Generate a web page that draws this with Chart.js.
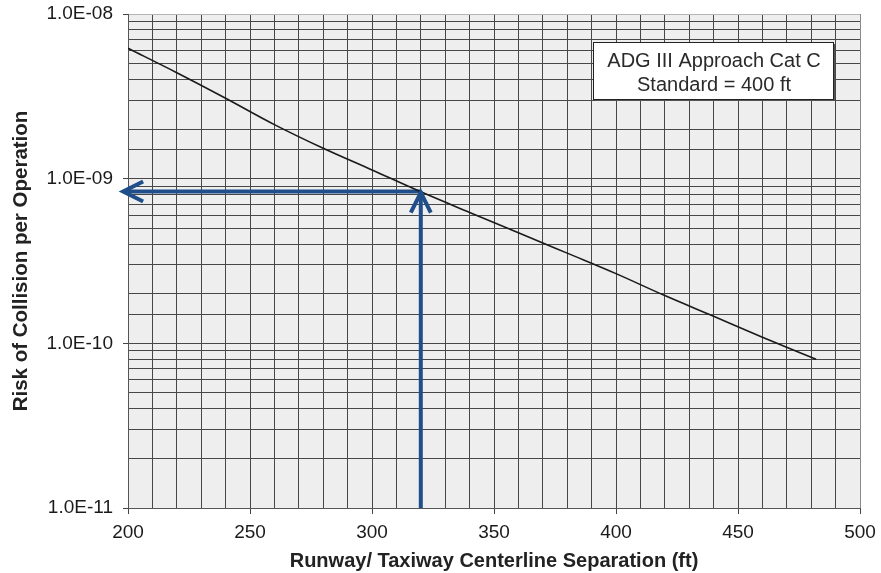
<!DOCTYPE html>
<html>
<head>
<meta charset="utf-8">
<title>Risk of Collision vs Separation</title>
<script src="https://cdn.jsdelivr.net/npm/chart.js@4.4.1/dist/chart.umd.min.js"></script>
<style>
  body { margin: 0; background: #fff; }
  #wrap { width: 881px; height: 573px; }
</style>
</head>
<body>
<div id="wrap"><canvas id="riskChart" width="881" height="573"></canvas></div>
<script>
// ---- data ----
const separationFt = [200, 220, 240, 260, 280, 300, 320, 340, 360, 380, 400, 420, 440, 460, 482];
const collisionRisk = [6.19e-9, 4.40e-9, 3.08e-9, 2.13e-9, 1.53e-9, 1.13e-9, 8.32e-10, 6.24e-10,
                       4.70e-10, 3.53e-10, 2.65e-10, 1.95e-10, 1.46e-10, 1.09e-10, 8.0e-11];

// reading arrows (go up from the axis at 320 ft, then left to the risk axis)
const readSeparation = 320;
const readRisk = 8.35e-10;
const arrowBottomRisk = 1e-11;
const arrowLeftSeparation = 198;

const xMin = 200, xMax = 500, xStep = 10, xLabelStep = 50;
const yMin = 1e-11, yMax = 1e-8;

const noteLines = ["ADG III Approach Cat C", "Standard = 400 ft"];

const FONT = "'Liberation Sans', Arial, Helvetica, sans-serif";
const ARROW_BLUE = "#1f4e8a";

function isDecade(v) {
  const l = Math.log10(v);
  return Math.abs(l - Math.round(l)) < 1e-6;
}

// ------------------- Plugins -------------------
const plotBackground = {
  id: "plotBackground",
  beforeDraw(chart) {
    const { ctx, chartArea: a } = chart;
    ctx.save();
    ctx.fillStyle = "#eeeeee";
    ctx.fillRect(a.left, a.top, a.right - a.left, a.bottom - a.top);
    ctx.restore();
  }
};

const arrowHeads = {
  id: "arrowHeads",
  afterDatasetsDraw(chart) {
    const { ctx, scales: { x, y } } = chart;
    const px = x.getPixelForValue(readSeparation);
    const py = y.getPixelForValue(readRisk);
    const lx = x.getPixelForValue(arrowLeftSeparation);
    ctx.save();
    ctx.strokeStyle = ARROW_BLUE;
    ctx.lineWidth = 4;
    ctx.lineCap = "butt";
    ctx.lineJoin = "miter";
    // up arrow head
    ctx.beginPath();
    ctx.moveTo(px - 10, py + 21);
    ctx.lineTo(px, py + 1);
    ctx.lineTo(px + 10, py + 21);
    ctx.stroke();
    // left arrow head
    ctx.beginPath();
    ctx.moveTo(lx + 20, py - 10);
    ctx.lineTo(lx, py);
    ctx.lineTo(lx + 20, py + 10);
    ctx.stroke();
    ctx.restore();
  }
};

const noteBox = {
  id: "noteBox",
  afterDraw(chart) {
    const { ctx } = chart;
    const bx = 593, by = 42, bw = 240, bh = 57;
    ctx.save();
    ctx.fillStyle = "#555";
    ctx.fillRect(bx + 2, by + 2, bw, bh);
    ctx.fillStyle = "#fff";
    ctx.fillRect(bx, by, bw, bh);
    ctx.strokeStyle = "#222";
    ctx.lineWidth = 1;
    ctx.strokeRect(bx + 0.5, by + 0.5, bw, bh);
    ctx.fillStyle = "#2a2a2a";
    ctx.font = "20px " + FONT;
    ctx.textAlign = "center";
    ctx.textBaseline = "middle";
    ctx.fillText(noteLines[0], bx + bw / 2 + 1, by + 19);
    ctx.fillText(noteLines[1], bx + bw / 2 + 1, by + 43);
    ctx.restore();
  }
};

// ------------------- Chart -------------------
new Chart(document.getElementById("riskChart"), {
  type: "line",
  data: {
    datasets: [
      {
        label: "Risk",
        data: separationFt.map((s, i) => ({ x: s, y: collisionRisk[i] })),
        borderColor: "#1a1a1a",
        borderWidth: 1.6,
        pointRadius: 0,
        cubicInterpolationMode: "monotone"
      },
      {
        label: "read up",
        data: [{ x: readSeparation, y: arrowBottomRisk }, { x: readSeparation, y: readRisk }],
        borderColor: ARROW_BLUE,
        borderWidth: 4,
        pointRadius: 0
      },
      {
        label: "read left",
        data: [{ x: readSeparation, y: readRisk }, { x: arrowLeftSeparation, y: readRisk }],
        borderColor: ARROW_BLUE,
        borderWidth: 4,
        pointRadius: 0,
        clip: false
      }
    ]
  },
  options: {
    responsive: false,
    animation: false,
    layout: { padding: { top: 14, right: 21, left: 0, bottom: 0 } },
    plugins: { legend: { display: false }, tooltip: { enabled: false } },
    scales: {
      x: {
        type: "linear",
        min: xMin,
        max: xMax,
        afterFit: (s) => { s.height = 65; s.paddingLeft = 0; s.paddingRight = 0; },
        ticks: {
          stepSize: xStep,
          autoSkip: false,
          maxRotation: 0,
          padding: 7,
          color: "#1a1a1a",
          font: { family: FONT, size: 19 },
          callback: (v) => (v % xLabelStep === 0 ? String(v) : "")
        },
        grid: {
          color: (c) => (c.tick && c.tick.value === xMax ? "#8a8a8a" : "#474747"),
          lineWidth: 1,
          tickLength: 6,
          tickColor: (c) => (c.tick && c.tick.value % xLabelStep === 0 ? "#444" : "rgba(0,0,0,0)")
        },
        border: { color: "#555", width: 1 },
        title: {
          display: true,
          text: "Runway/ Taxiway Centerline Separation (ft)",
          color: "#222",
          font: { family: FONT, size: 20, weight: "bold" },
          padding: { top: 0, bottom: 0 }
        }
      },
      y: {
        type: "logarithmic",
        min: yMin,
        max: yMax,
        afterFit: (s) => { s.width = 128; s.paddingTop = 0; s.paddingBottom = 0; },
        ticks: {
          autoSkip: false,
          padding: 10,
          color: "#1a1a1a",
          font: { family: FONT, size: 19 },
          callback: (v) => (isDecade(v) ? Number(v).toExponential(1).replace(/e([+-])(\d)$/, "E$10$2").replace("e", "E") : "")
        },
        grid: {
          color: (c) => (c.tick && c.tick.value >= yMax * 0.999 ? "#b5b5b5" : "#474747"),
          lineWidth: 1,
          tickLength: 5,
          tickColor: (c) => (c.tick && isDecade(c.tick.value) ? "#444" : "rgba(0,0,0,0)")
        },
        border: { color: "#555", width: 1 },
        title: {
          display: true,
          text: "Risk of Collision per Operation",
          color: "#222",
          font: { family: FONT, size: 20.5, weight: "bold" },
          padding: { top: 9, bottom: 0 }
        }
      }
    }
  },
  plugins: [plotBackground, arrowHeads, noteBox]
});
</script>
</body>
</html>
